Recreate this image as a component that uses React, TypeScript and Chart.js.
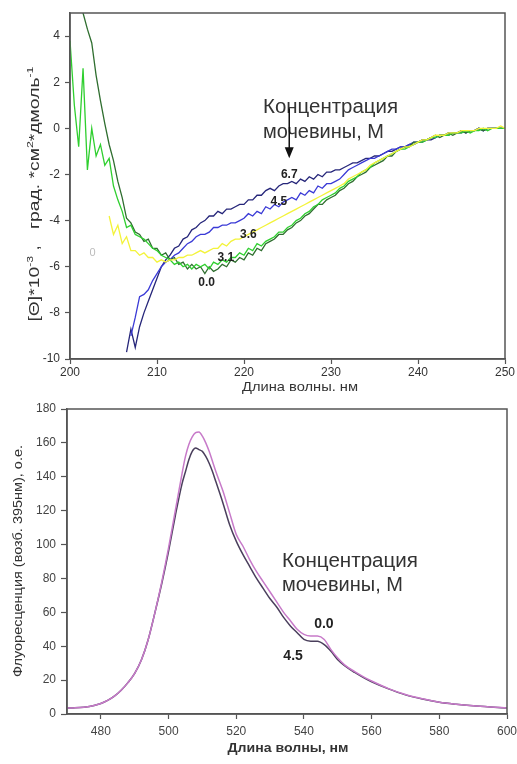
import React, { useEffect, useRef } from "react";
import { Chart, registerables } from "chart.js";

Chart.register(...registerables);

const FONT = "'Liberation Sans', Arial, Helvetica, sans-serif";
const AXIS_COLOR = "#555555";

// ---------- CD spectra (top chart) ----------
const CD_WL_START = 200;
const CD_WL_STEP = 0.5;
const CD_X_TICKS = [200, 210, 220, 230, 240, 250];
const CD_Y_TICKS = [-10, -8, -6, -4, -2, 0, 2, 4];
const CD_UREA = ["0.0", "3.1", "3.6", "4.5", "6.7"];
const CD_COLORS = ["#2f6e2f", "#2fcf2f", "#f3f33a", "#3a3ad6", "#26267a"];

const CD_00 = [
  null, null, 6.0, 5.0, 4.3, 3.7, 2.3, 1.2, 0.2, -0.7,
  -1.4, -2.3, -3.0, -3.9, -4.1, -4.5, -4.6, -4.9, -4.8, -5.2,
  -5.2, -5.5, -5.4, -5.7, -5.6, -5.9, -5.8, -6.1, -5.9, -6.1,
  -6.0, -6.3, -6.0, -6.2, -6.1, -5.9, -6.0, -5.7, -5.8, -5.6,
  -5.7, -5.4, -5.5, -5.2, -5.3, -5.0, -4.9, -4.8, -4.6, -4.6,
  -4.4, -4.3, -4.1, -4.0, -3.8, -3.7, -3.5, -3.3, -3.3, -3.1,
  -3.0, -2.9, -2.7, -2.6, -2.4, -2.3, -2.1, -2.0, -1.9, -1.7,
  -1.6, -1.5, -1.4, -1.2, -1.2, -1.0, -0.9, -0.8, -0.8, -0.6,
  -0.6, -0.5, -0.5, -0.4, -0.3, -0.4, -0.3, -0.2, -0.3, -0.2,
  -0.1, -0.2, -0.1, -0.1, 0.0, -0.1, 0.0, 0.0, 0.0, 0.0,
  0.0,
];
const CD_31 = [
  3.8, 1.0, -0.8, 2.6, -1.8, 0.0, -1.2, -0.7, -1.6, -1.3,
  -2.5, -3.1, -3.6, -4.3, -4.2, -4.6, -4.7, -4.8, -5.0, -5.2,
  -5.3, -5.5, -5.6, -5.7, -5.9, -5.8, -6.0, -5.9, -6.1, -5.9,
  -6.0, -5.9, -6.1, -5.8, -5.9, -5.7, -5.8, -5.6, -5.6, -5.4,
  -5.5, -5.2, -5.3, -5.0, -5.1, -4.9, -4.8, -4.7, -4.5, -4.5,
  -4.3, -4.2, -4.0, -3.9, -3.7, -3.6, -3.4, -3.3, -3.1, -3.0,
  -2.9, -2.8, -2.6, -2.5, -2.3, -2.2, -2.1, -1.9, -1.8, -1.7,
  -1.5, -1.4, -1.3, -1.2, -1.1, -1.0, -0.9, -0.9, -0.8, -0.7,
  -0.6, -0.6, -0.5, -0.4, -0.4, -0.3, -0.3, -0.3, -0.2, -0.2,
  -0.2, -0.1, -0.2, -0.1, -0.1, 0.0, -0.1, 0.0, 0.0, 0.0,
  0.0,
];
const CD_36 = [
  null, null, null, null, null, null, null, null, null, -3.8,
  -4.6, -4.2, -5.0, -4.7, -5.3, -5.3, -5.5, -5.4, -5.6, -5.6,
  -5.8, -5.7, -5.8, -5.7, -5.7, -5.6, -5.6, -5.5, -5.5, -5.4,
  -5.3, -5.4, -5.3, -5.2, -5.2, -5.0, -5.1, -4.9, -4.8, -4.8,
  -4.7, -4.6, -4.5, -4.4, -4.3, -4.2, -4.1, -4.0, -3.9, -3.8,
  -3.7, -3.6, -3.5, -3.4, -3.3, -3.2, -3.1, -3.0, -2.9, -2.8,
  -2.7, -2.6, -2.5, -2.4, -2.2, -2.1, -2.0, -1.9, -1.8, -1.6,
  -1.5, -1.4, -1.3, -1.2, -1.1, -1.0, -0.9, -0.8, -0.8, -0.7,
  -0.6, -0.5, -0.5, -0.4, -0.3, -0.3, -0.3, -0.2, -0.2, -0.2,
  -0.1, -0.1, -0.1, -0.1, 0.0, 0.0, 0.0, 0.0, 0.0, 0.1,
  0.0,
];
const CD_45 = [
  null, null, null, null, null, null, null, null, null, null,
  null, null, null, null, -9.0, -8.2, -7.3, -7.2, -7.0, -6.6,
  -6.3, -6.0, -5.8, -5.7, -5.5, -5.4, -5.2, -5.0, -4.9, -4.7,
  -4.6, -4.6, -4.5, -4.3, -4.3, -4.2, -4.2, -4.1, -4.1, -4.0,
  -3.9, -3.7, -3.8, -3.6, -3.7, -3.4, -3.5, -3.3, -3.4, -3.2,
  -3.1, -3.0, -3.1, -2.8, -2.9, -2.7, -2.8, -2.5, -2.6, -2.4,
  -2.4, -2.3, -2.2, -2.0, -1.8, -1.7, -1.6, -1.5, -1.4, -1.3,
  -1.3, -1.2, -1.1, -1.0, -0.9, -0.9, -0.8, -0.8, -0.7, -0.6,
  -0.6, -0.5, -0.5, -0.4, -0.4, -0.3, -0.3, -0.2, -0.2, -0.2,
  -0.1, -0.2, -0.1, -0.1, 0.0, -0.1, 0.0, 0.0, 0.0, 0.0,
  0.0,
];
const CD_67 = [
  null, null, null, null, null, null, null, null, null, null,
  null, null, null, -9.7, -8.7, -9.5, -8.6, -8.0, -7.5, -7.0,
  -6.5, -6.0, -5.7, -5.5, -5.2, -5.1, -4.8, -4.7, -4.4, -4.3,
  -4.1, -4.0, -3.8, -3.8, -3.6, -3.7, -3.5, -3.5, -3.4, -3.3,
  -3.3, -3.1, -3.1, -2.9, -2.9, -2.7, -2.6, -2.7, -2.5, -2.4,
  -2.4, -2.3, -2.4, -2.2, -2.3, -2.1, -2.2, -2.0, -2.1, -1.9,
  -1.9, -1.8, -1.8, -1.7, -1.6, -1.5, -1.5, -1.4, -1.3, -1.3,
  -1.2, -1.2, -1.1, -1.0, -1.0, -0.9, -0.8, -0.8, -0.7, -0.7,
  -0.6, -0.6, -0.5, -0.5, -0.4, -0.3, -0.3, -0.3, -0.2, -0.2,
  -0.2, -0.1, -0.1, -0.1, 0.0, -0.1, 0.0, 0.0, 0.0, 0.0,
  0.0,
];
const CD_SERIES = [CD_00, CD_31, CD_36, CD_45, CD_67];
// curve labels placed in data coordinates [wavelength, value]
const CD_LABEL_POS = [
  [215.7, -6.7],
  [217.9, -5.6],
  [220.5, -4.6],
  [224.0, -3.2],
  [225.2, -2.0],
];

// ---------- Fluorescence (bottom chart) ----------
const FL_X_TICKS = [480, 500, 520, 540, 560, 580, 600];
const FL_Y_TICKS = [0, 20, 40, 60, 80, 100, 120, 140, 160, 180];
const FL_UREA = ["0.0", "4.5"];
const FL_COLORS = ["#c77ac9", "#4a3f5c"];
const FL_WL = [
  470, 472, 475, 478, 480, 482, 484, 486, 488, 490,
  492, 494, 496, 498, 500, 502, 504, 505, 506, 507,
  508, 509, 510, 511, 512, 513, 514, 516, 518, 520,
  522, 524, 526, 528, 530, 532, 534, 536, 538, 540,
  542, 544, 546, 548, 550, 552, 555, 558, 560, 565,
  570, 575, 580, 585, 590, 595, 600,
];
const FL_00 = [
  3.5, 3.6, 4.0, 5.0, 6.2, 8, 10.5, 14, 18.5, 24,
  32, 44, 60, 78, 98, 120, 142, 152, 159, 163.5,
  166, 166.5, 164, 160, 155, 149, 143, 132, 119, 106,
  99, 91, 84, 78, 72, 66, 60, 55, 50, 47,
  46, 46, 44, 38, 33, 29, 25, 21.5, 19.5, 15,
  11.5, 9, 7, 5.8, 4.9, 4.2, 3.6,
];
const FL_45 = [
  3.5, 3.6, 4.0, 5.0, 6.2, 8, 10.5, 14, 18.5, 24,
  32, 44, 60, 77, 96, 117, 136, 143, 150, 155,
  157, 156, 155, 152, 148, 143, 137, 125, 112, 102,
  94, 87, 80, 74, 68, 63, 57, 52, 48, 44,
  43, 43, 41, 37, 32, 28.5, 24.5, 21, 19, 14.8,
  11.3, 8.8, 6.9, 5.7, 4.8, 4.1, 3.5,
];
const FL_SERIES = [FL_00, FL_45];
const FL_LABEL_POS = [
  [545.9, 53],
  [536.8, 34],
];

type Part = { t: string; sup?: boolean };

function drawFit(
  ctx: CanvasRenderingContext2D,
  text: string,
  x: number,
  y: number,
  font: string,
  color: string,
  align: "left" | "center" | "right",
  width?: number
) {
  ctx.save();
  ctx.font = font;
  ctx.fillStyle = color;
  ctx.textAlign = "left";
  ctx.textBaseline = "alphabetic";
  const w = ctx.measureText(text).width;
  const s = width ? width / w : 1;
  const dw = w * s;
  const left = align === "center" ? x - dw / 2 : align === "right" ? x - dw : x;
  ctx.translate(left, y);
  ctx.scale(s, 1);
  ctx.fillText(text, 0, 0);
  ctx.restore();
}

function drawVertical(
  ctx: CanvasRenderingContext2D,
  parts: Part[],
  cx: number,
  cy: number,
  size: number,
  color: string,
  length: number,
  weight = "normal"
) {
  ctx.save();
  ctx.translate(cx, cy);
  ctx.rotate(-Math.PI / 2);
  ctx.fillStyle = color;
  ctx.textBaseline = "alphabetic";
  ctx.textAlign = "left";
  const fontFor = (p: Part) => `${weight} ${p.sup ? Math.round(size * 0.65) : size}px ${FONT}`;
  let total = 0;
  const ws = parts.map((p) => {
    ctx.font = fontFor(p);
    const w = ctx.measureText(p.t).width;
    total += w;
    return w;
  });
  ctx.scale(length / total, 1);
  let xx = -total / 2;
  parts.forEach((p, i) => {
    ctx.font = fontFor(p);
    ctx.fillText(p.t, xx, p.sup ? size * 0.36 - size * 0.45 : size * 0.36);
    xx += ws[i];
  });
  ctx.restore();
}

function frame(chart: any) {
  const { ctx, chartArea: ca } = chart;
  ctx.save();
  ctx.strokeStyle = AXIS_COLOR;
  ctx.lineWidth = 1.5;
  ctx.strokeRect(ca.left, ca.top, ca.right - ca.left, ca.bottom - ca.top);
  ctx.restore();
}

function axisCommon(ticksArr: number[], fontSize: number, color: string, tickLen: number, pad: number) {
  return {
    afterBuildTicks: (s: any) => {
      s.ticks = ticksArr.map((v) => ({ value: v }));
    },
    ticks: {
      font: { family: FONT, size: fontSize },
      color,
      padding: pad,
      maxRotation: 0,
      autoSkip: false,
    },
    grid: {
      drawOnChartArea: false,
      drawTicks: true,
      tickLength: tickLen,
      tickWidth: 1.2,
      tickColor: AXIS_COLOR,
      color: AXIS_COLOR,
    },
    border: { display: true, color: AXIS_COLOR, width: 1.5 },
  };
}

export default function App() {
  const topRef = useRef<HTMLCanvasElement | null>(null);
  const botRef = useRef<HTMLCanvasElement | null>(null);

  useEffect(() => {
    const topPlugin = {
      id: "cdNotes",
      afterDraw(chart: any) {
        const { ctx, scales } = chart;
        const x = scales.x;
        const y = scales.y;
        frame(chart);
        drawVertical(
          ctx,
          [
            { t: "[Θ]*10" },
            { t: "-3", sup: true },
            { t: " ,   град. *см" },
            { t: "2", sup: true },
            { t: "*дмоль" },
            { t: "-1", sup: true },
          ],
          34,
          194,
          14,
          "#333",
          255
        );
        drawFit(ctx, "Длина волны. нм", 300, 391, `13px ${FONT}`, "#333", "center", 116);
        drawFit(ctx, "Концентрация", 263, 113, `20px ${FONT}`, "#333", "left", 135);
        drawFit(ctx, "мочевины, М", 263, 138, `20px ${FONT}`, "#333", "left");
        const ax = x.getPixelForValue(225.2);
        const ay0 = y.getPixelForValue(0.87);
        const ay1 = y.getPixelForValue(-1.3);
        ctx.save();
        ctx.strokeStyle = "#111";
        ctx.fillStyle = "#111";
        ctx.lineWidth = 1.5;
        ctx.beginPath();
        ctx.moveTo(ax, ay0);
        ctx.lineTo(ax, ay1 - 8);
        ctx.stroke();
        ctx.beginPath();
        ctx.moveTo(ax - 4.5, ay1 - 11);
        ctx.lineTo(ax + 4.5, ay1 - 11);
        ctx.lineTo(ax, ay1);
        ctx.closePath();
        ctx.fill();
        ctx.restore();
        ctx.save();
        ctx.font = `bold 12px ${FONT}`;
        ctx.fillStyle = "#222";
        ctx.textAlign = "center";
        ctx.textBaseline = "middle";
        CD_UREA.forEach((lab, i) => {
          const [wx, wy] = CD_LABEL_POS[i];
          ctx.fillText(lab, x.getPixelForValue(wx), y.getPixelForValue(wy));
        });
        ctx.font = `11px ${FONT}`;
        ctx.fillStyle = "#bbbbbb";
        ctx.fillText("0", x.getPixelForValue(202.6), y.getPixelForValue(-5.4));
        ctx.restore();
      },
    };

    const botPlugin = {
      id: "flNotes",
      afterDraw(chart: any) {
        const { ctx, scales } = chart;
        const x = scales.x;
        const y = scales.y;
        frame(chart);
        drawVertical(
          ctx,
          [{ t: "Флуоресценция (возб. 395нм), о.е." }],
          18,
          166,
          12,
          "#333",
          232
        );
        drawFit(ctx, "Длина волны, нм", 288, 357, `bold 12px ${FONT}`, "#333", "center", 121);
        drawFit(ctx, "Концентрация", 282, 172, `20px ${FONT}`, "#333", "left", 136);
        drawFit(ctx, "мочевины, М", 282, 196, `20px ${FONT}`, "#333", "left");
        ctx.save();
        ctx.font = `bold 14px ${FONT}`;
        ctx.fillStyle = "#222";
        ctx.textAlign = "center";
        ctx.textBaseline = "middle";
        FL_UREA.forEach((lab, i) => {
          const [wx, wy] = FL_LABEL_POS[i];
          ctx.fillText(lab, x.getPixelForValue(wx), y.getPixelForValue(wy));
        });
        ctx.restore();
      },
    };

    const cdDatasets = CD_SERIES.map((vals, i) => ({
      label: CD_UREA[i],
      data: vals.map((v, k) => ({ x: CD_WL_START + k * CD_WL_STEP, y: v })),
      borderColor: CD_COLORS[i],
      borderWidth: 1.3,
      pointRadius: 0,
      tension: 0,
      spanGaps: false,
      fill: false,
    }));
    const cdOrdered = [cdDatasets[2], cdDatasets[1], cdDatasets[0], cdDatasets[3], cdDatasets[4]];

    const fitX = (h: number) => (s: any) => {
      s.height = h;
      s.paddingLeft = 0;
      s.paddingRight = 0;
    };

    const topChart = new Chart(topRef.current as HTMLCanvasElement, {
      type: "line",
      data: { datasets: cdOrdered as any },
      options: {
        animation: false,
        responsive: false,
        maintainAspectRatio: false,
        layout: { padding: { top: 13, right: 12, left: 0, bottom: 0 } },
        plugins: { legend: { display: false }, tooltip: { enabled: false } },
        scales: {
          x: {
            type: "linear",
            min: 200,
            max: 250,
            afterFit: fitX(36),
            ...axisCommon(CD_X_TICKS, 12, "#333", 5, 1),
          } as any,
          y: {
            type: "linear",
            min: -10,
            max: 5,
            afterFit: (s: any) => {
              s.width = 70;
            },
            ...axisCommon(CD_Y_TICKS, 12, "#333", 5, 5),
          } as any,
        },
      },
      plugins: [topPlugin],
    });

    const flDatasets = FL_SERIES.map((vals, i) => ({
      label: FL_UREA[i],
      data: vals.map((v, k) => ({ x: FL_WL[k], y: v })),
      borderColor: FL_COLORS[i],
      borderWidth: 1.5,
      pointRadius: 0,
      cubicInterpolationMode: "monotone" as const,
      fill: false,
    }));

    const botChart = new Chart(botRef.current as HTMLCanvasElement, {
      type: "line",
      data: { datasets: flDatasets as any },
      options: {
        animation: false,
        responsive: false,
        maintainAspectRatio: false,
        layout: { padding: { top: 14, right: 10, left: 0, bottom: 0 } },
        plugins: { legend: { display: false }, tooltip: { enabled: false } },
        scales: {
          x: {
            type: "linear",
            min: 470,
            max: 600,
            afterFit: fitX(50),
            ...axisCommon(FL_X_TICKS, 12, "#444", 5, 5),
          } as any,
          y: {
            type: "linear",
            min: 0,
            max: 180,
            afterFit: (s: any) => {
              s.width = 67;
            },
            ...axisCommon(FL_Y_TICKS, 12, "#444", 6, 5),
          } as any,
        },
      },
      plugins: [botPlugin],
    });

    return () => {
      topChart.destroy();
      botChart.destroy();
    };
  }, []);

  return (
    <div style={{ position: "absolute", left: 0, top: 0, width: 517, height: 764, background: "#fff" }}>
      <canvas ref={topRef} width={517} height={395} style={{ position: "absolute", left: 0, top: 0 }} />
      <canvas ref={botRef} width={517} height={369} style={{ position: "absolute", left: 0, top: 395 }} />
    </div>
  );
}
